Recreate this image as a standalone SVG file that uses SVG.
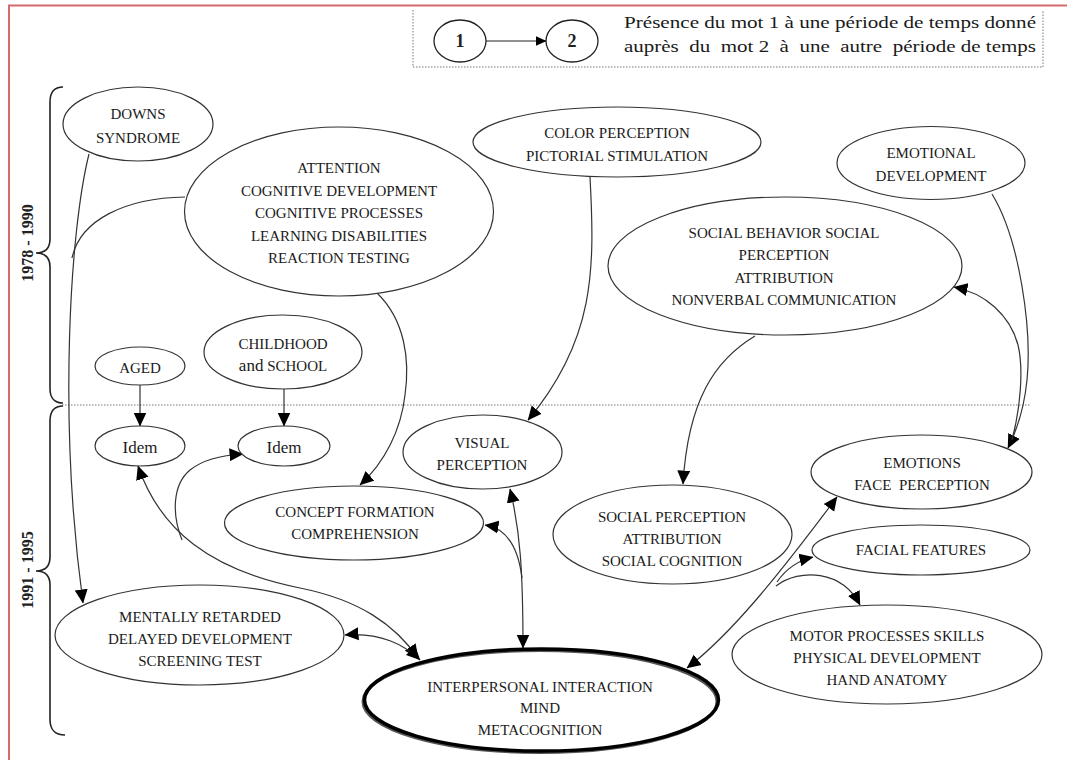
<svg xmlns="http://www.w3.org/2000/svg" width="1067" height="760" viewBox="0 0 1067 760">
<defs>
<marker id="arr" markerUnits="userSpaceOnUse" markerWidth="14" markerHeight="14" viewBox="0 0 14 14" refX="13.5" refY="7" orient="auto-start-reverse">
<path d="M0,0.5 L14,7 L0,13.5 z" fill="#000"/>
</marker>
<marker id="arrs" markerUnits="userSpaceOnUse" markerWidth="11" markerHeight="11" viewBox="0 0 11 11" refX="10.5" refY="5.5" orient="auto">
<path d="M0,0.5 L11,5.5 L0,10.5 z" fill="#000"/>
</marker>
</defs>
<style>
.node ellipse{fill:#fff;stroke:#333;stroke-width:1.2}
.t{font-family:"Liberation Serif","Times New Roman",serif;font-size:15px;fill:#1a1a1a;text-anchor:middle;white-space:pre}
.lg{font-family:"Liberation Serif","Times New Roman",serif;font-size:17px;fill:#1a1a1a;white-space:pre}
.conn path{fill:none;stroke:#333;stroke-width:1.2}
.dot{stroke:#777;stroke-width:1;stroke-dasharray:1.5 1.5;fill:none}
.brace{fill:none;stroke:#222;stroke-width:1.6}
.yr{font-family:"Liberation Serif","Times New Roman",serif;font-size:16px;font-weight:bold;fill:#222;text-anchor:middle}
</style>
<rect x="0" y="0" width="1067" height="760" fill="#fff"/>
<path d="M9,760 L9,5.5 L1067,5.5" fill="none" stroke="#d46a6a" stroke-width="2"/>
<g id="legend">
<path class="dot" d="M413,10 L413,67 L1043,67 L1043,10"/>
<ellipse cx="460" cy="41" rx="26" ry="21" fill="#fff" stroke="#222" stroke-width="1.3"/>
<ellipse cx="572" cy="41" rx="26" ry="21" fill="#fff" stroke="#222" stroke-width="1.3"/>
<path d="M486,41 L546,41" stroke="#222" stroke-width="1.2" marker-end="url(#arrs)"/>
<text class="yr" x="460" y="47" style="font-size:18px">1</text>
<text class="yr" x="572" y="47" style="font-size:18px">2</text>
<text class="lg" x="624" y="28" textLength="412" lengthAdjust="spacingAndGlyphs">Présence du mot 1 à une période de temps donné</text>
<text class="lg" x="624" y="52" textLength="412" lengthAdjust="spacingAndGlyphs">auprès  du  mot 2  à  une  autre  période de temps</text>
</g>
<path class="dot" d="M62,405 L1031,405"/>
<g id="periods">
<path class="brace" d="M63,87 C55,87 50,92 50,102 L50,239 C50,248 45,253 36,253 C45,253 50,258 50,267 L50,389 C50,398 55,403 63,403"/>
<path class="brace" d="M63,406 C55,406 50,411 50,421 L50,557 C50,566 45,571 36,571 C45,571 50,576 50,585 L50,720 C50,729 55,735 65,735"/>
<text class="yr" transform="translate(33,243) rotate(-90)">1978 - 1990</text>
<text class="yr" transform="translate(33,570) rotate(-90)">1991 - 1995</text>
</g>
<g id="connectors" class="conn">
<path d="M89,154 C70,230 58,420 83,603" marker-end="url(#arr)"/>
<path d="M185,197 C125,198 80,220 72,258"/>
<path d="M377,293 C405,320 410,360 405,395 C401,430 385,462 360,485" marker-end="url(#arr)"/>
<path d="M140,385 L140,426" marker-end="url(#arr)"/>
<path d="M284,389 L284,426" marker-end="url(#arr)"/>
<path d="M138,466 C160,530 210,570 300,588 C360,600 395,625 418,658" marker-start="url(#arr)" marker-end="url(#arr)"/>
<path d="M182,540 C172,515 172,485 190,470 C205,458 225,455 243,454" marker-end="url(#arr)"/>
<path d="M345,635 C380,632 405,645 420,660" marker-start="url(#arr)" marker-end="url(#arr)"/>
<path d="M510,489 C520,530 523,570 523,648" marker-start="url(#arr)" marker-end="url(#arr)"/>
<path d="M522,578 C518,545 505,528 485,525" marker-end="url(#arr)"/>
<path d="M590,177 C595,270 595,340 528,420" marker-end="url(#arr)"/>
<path d="M755,336 C715,360 688,400 683,484" marker-end="url(#arr)"/>
<path d="M992,194 C1020,240 1032,330 1027,380 C1024,410 1016,432 1008,448" marker-end="url(#arr)"/>
<path d="M1012,440 C1020,410 1024,370 1018,345 C1010,315 985,293 954,287" marker-end="url(#arr)"/>
<path d="M687,668 C730,635 775,580 837,497" marker-start="url(#arr)" marker-end="url(#arr)"/>
<path d="M777,582 C788,566 800,560 813,557" marker-end="url(#arr)"/>
<path d="M776,586 C800,568 842,570 860,605" marker-end="url(#arr)"/>
</g>
<g id="n-downs" class="node"><ellipse cx="138" cy="124" rx="75" ry="37"/><text class="t" x="138" y="119">DOWNS</text><text class="t" x="138" y="143">SYNDROME</text></g>
<g id="n-attention" class="node"><ellipse cx="339" cy="211.5" rx="154.5" ry="84.5"/>
<text class="t" x="339" y="173">ATTENTION</text><text class="t" x="339" y="196">COGNITIVE DEVELOPMENT</text><text class="t" x="339" y="218">COGNITIVE PROCESSES</text><text class="t" x="339" y="241">LEARNING DISABILITIES</text><text class="t" x="339" y="263">REACTION TESTING</text></g>
<g id="n-color" class="node"><ellipse cx="617" cy="142" rx="144" ry="35"/><text class="t" x="617" y="138">COLOR PERCEPTION</text><text class="t" x="617" y="161">PICTORIAL STIMULATION</text></g>
<g id="n-emodev" class="node"><ellipse cx="931" cy="163" rx="94" ry="36.5"/><text class="t" x="931" y="158">EMOTIONAL</text><text class="t" x="931" y="181">DEVELOPMENT</text></g>
<g id="n-socbeh" class="node"><ellipse cx="785" cy="266" rx="177" ry="69"/>
<text class="t" x="784" y="238">SOCIAL BEHAVIOR SOCIAL</text><text class="t" x="784" y="260">PERCEPTION</text><text class="t" x="784" y="283">ATTRIBUTION</text><text class="t" x="784" y="305">NONVERBAL COMMUNICATION</text></g>
<g id="n-aged" class="node"><ellipse cx="140" cy="366" rx="45" ry="19"/><text class="t" x="140" y="373">AGED</text></g>
<g id="n-child" class="node"><ellipse cx="283" cy="352" rx="79" ry="37"/><text class="t" x="283" y="349">CHILDHOOD</text><text class="t" x="283" y="371"><tspan font-size="17">and</tspan> SCHOOL</text></g>
<g id="n-idem1" class="node"><ellipse cx="140" cy="446" rx="45" ry="20"/><text class="t" x="140" y="453" style="font-size:17px">Idem</text></g>
<g id="n-idem2" class="node"><ellipse cx="284" cy="446" rx="46" ry="20"/><text class="t" x="284" y="453" style="font-size:17px">Idem</text></g>
<g id="n-visual" class="node"><ellipse cx="482.5" cy="452" rx="79.5" ry="37"/><text class="t" x="482" y="448">VISUAL</text><text class="t" x="482" y="470">PERCEPTION</text></g>
<g id="n-concept" class="node"><ellipse cx="354" cy="523" rx="129.5" ry="37"/><text class="t" x="355" y="517">CONCEPT FORMATION</text><text class="t" x="355" y="539">COMPREHENSION</text></g>
<g id="n-socperc" class="node"><ellipse cx="672.5" cy="534.5" rx="119.5" ry="49.5"/><text class="t" x="672" y="522">SOCIAL PERCEPTION</text><text class="t" x="672" y="544">ATTRIBUTION</text><text class="t" x="672" y="566">SOCIAL COGNITION</text></g>
<g id="n-emotions" class="node"><ellipse cx="921.5" cy="472" rx="110.5" ry="37"/><text class="t" x="922" y="468">EMOTIONS</text><text class="t" x="922" y="490">FACE  PERCEPTION</text></g>
<g id="n-facial" class="node"><ellipse cx="921" cy="550" rx="109" ry="25"/><text class="t" x="921" y="555">FACIAL FEATURES</text></g>
<g id="n-motor" class="node"><ellipse cx="887" cy="654.5" rx="155" ry="49.5"/><text class="t" x="887" y="641">MOTOR PROCESSES SKILLS</text><text class="t" x="887" y="663">PHYSICAL DEVELOPMENT</text><text class="t" x="887" y="685">HAND ANATOMY</text></g>
<g id="n-mental" class="node"><ellipse cx="199.5" cy="635" rx="144.5" ry="50"/><text class="t" x="200" y="622">MENTALLY RETARDED</text><text class="t" x="200" y="644">DELAYED DEVELOPMENT</text><text class="t" x="200" y="666">SCREENING TEST</text></g>
<g id="n-inter" class="node"><ellipse cx="540" cy="701.5" rx="177" ry="51" style="stroke:#555;stroke-width:3"/><ellipse cx="541.5" cy="700" rx="177" ry="51" style="fill:none;stroke:#000;stroke-width:3.5"/><text class="t" x="540" y="692">INTERPERSONAL INTERACTION</text><text class="t" x="540" y="713">MIND</text><text class="t" x="540" y="735">METACOGNITION</text></g>
</svg>
